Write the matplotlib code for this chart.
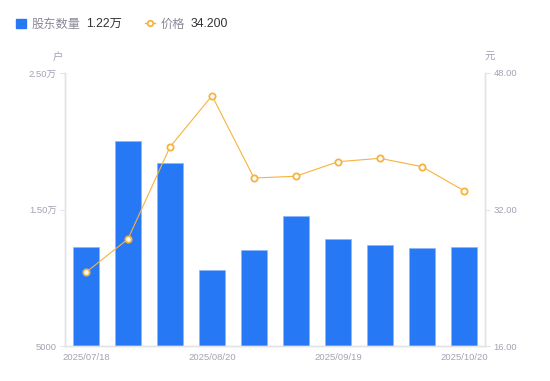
import matplotlib
matplotlib.use('Agg')
import matplotlib.pyplot as plt
from matplotlib.patches import Patch
from matplotlib.lines import Line2D
from matplotlib.ticker import FixedLocator, FuncFormatter
from matplotlib.transforms import IdentityTransform

plt.rcParams['font.family'] = ['Liberation Sans', 'Noto Sans CJK SC', 'DejaVu Sans']

# 数据
dates = ['2025/07/18', '2025/07/31', '2025/08/10', '2025/08/20', '2025/08/31',
         '2025/09/10', '2025/09/19', '2025/09/30', '2025/10/10', '2025/10/20']
holders = [12280, 20020, 18390, 10570, 12030, 14550, 12820, 12380, 12160, 12220]
price = [24.64, 28.54, 39.33, 45.34, 35.69, 35.90, 37.60, 38.00, 37.02, 34.20]
left_ticks = [5000, 15000, 25000]
right_ticks = [16, 32, 48]
legend_values = ['1.22万', '34.200']

blue = '#2778f5'
orange = '#f7b33d'
axis_gray = '#e3e3e8'
label_gray = '#a3a3b5'

fig = plt.figure(figsize=(5.5, 3.81), dpi=100)
ax = fig.add_axes([65 / 550, 35 / 381, 420 / 550, 273 / 381])
ax2 = ax.twinx()

x = list(range(len(dates)))
ax.bar(x, holders, width=0.6, color=blue, edgecolor='#8db5f9', linewidth=0.5, zorder=2)
ax2.plot(x, price, color=orange, linewidth=0.8, marker='o', markersize=4.5,
         markerfacecolor='white', markeredgecolor=orange, markeredgewidth=1.3, zorder=3)

ax.set_xlim(-0.5, len(dates) - 0.5)
ax.set_ylim(left_ticks[0], left_ticks[-1])
ax2.set_ylim(right_ticks[0], right_ticks[-1])


def fmt_left(v, pos):
    if v >= 10000:
        return '%.2f万' % (v / 10000)
    return '%d' % v


ax.yaxis.set_major_locator(FixedLocator(left_ticks))
ax.yaxis.set_major_formatter(FuncFormatter(fmt_left))
ax2.yaxis.set_major_locator(FixedLocator(right_ticks))
ax2.yaxis.set_major_formatter(FuncFormatter(lambda v, p: '%.2f' % v))
ax.set_xticks(x[::3])
ax.set_xticklabels(dates[::3])

for a in (ax, ax2):
    for s in a.spines.values():
        s.set_color(axis_gray)
        s.set_linewidth(1)
    a.spines['top'].set_visible(False)
    a.tick_params(axis='y', length=3.5, width=0.8, color=axis_gray, labelcolor=label_gray,
                  labelsize=6.8, pad=2.5)
ax.tick_params(axis='x', length=0, labelcolor=label_gray, labelsize=6.8, pad=5)

ax.text(-0.017, 1.06, '户', transform=ax.transAxes, color=label_gray, fontsize=7.5,
        ha='center', va='center', family=['Noto Sans CJK SC'])
ax.text(1.012, 1.06, '元', transform=ax.transAxes, color=label_gray, fontsize=7.5,
        ha='center', va='center', family=['Noto Sans CJK SC'])

# 图例
handles = [Patch(facecolor=blue, edgecolor=blue),
           Line2D([0], [0], color=orange, linewidth=1, marker='o', markersize=4,
                  markerfacecolor='white', markeredgecolor=orange, markeredgewidth=1.3)]
leg = fig.legend(handles, ['股东数量', '价格'], loc='center left',
                 bbox_to_anchor=(16 / 550, 1 - 24 / 381), ncol=2, frameon=False,
                 borderpad=0, borderaxespad=0, handlelength=0.8, handleheight=0.8,
                 handletextpad=0.45, columnspacing=5.3,
                 prop={'family': ['Noto Sans CJK SC'], 'size': 8.8})
for t in leg.get_texts():
    t.set_color('#8a8a99')

# 图例数值跟在文字后面
fig.canvas.draw()
for t, val in zip(leg.get_texts(), legend_values):
    bb = t.get_window_extent()
    fig.text(bb.x1 + 6, (bb.y0 + bb.y1) / 2, val, transform=IdentityTransform(),
             va='center', ha='left', fontsize=8.8, color='#333333')

fig.savefig('out.png', dpi=100)
